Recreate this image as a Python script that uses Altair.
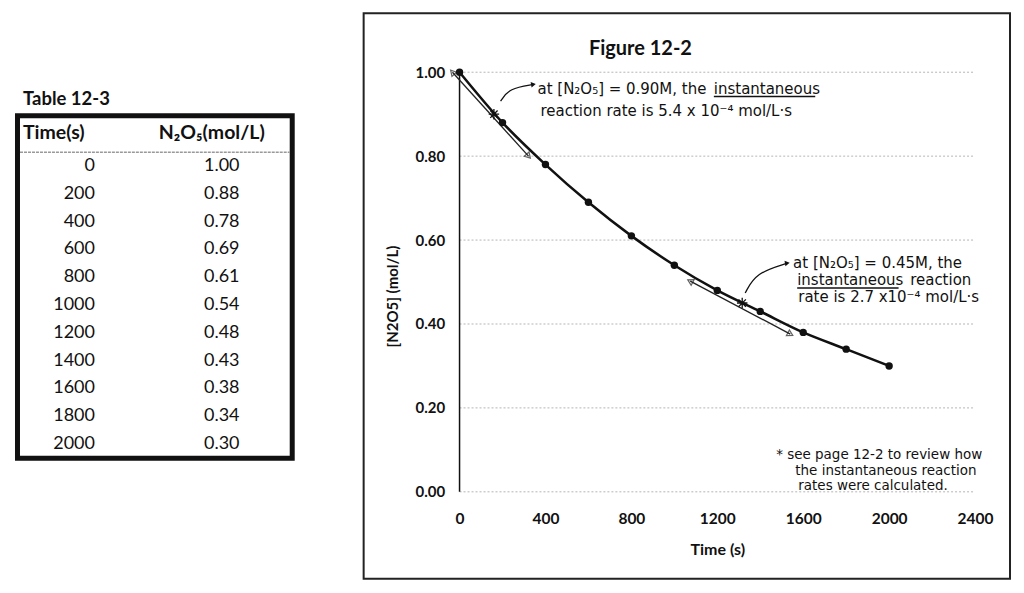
import altair as alt
import pandas as pd

# ---------------- data ----------------
table_title = "Table 12-3"
col_headers = ["Time(s)", "N₂O₅(mol/L)"]
time_s = [0, 200, 400, 600, 800, 1000, 1200, 1400, 1600, 1800, 2000]
conc = [1.00, 0.88, 0.78, 0.69, 0.61, 0.54, 0.48, 0.43, 0.38, 0.34, 0.30]
conc_labels = ["1.00", "0.88", "0.78", "0.69", "0.61", "0.54", "0.48", "0.43", "0.38", "0.34", "0.30"]

x_ticks = [0, 400, 800, 1200, 1600, 2000, 2400]
y_ticks = [0.0, 0.2, 0.4, 0.6, 0.8, 1.0]

# tangent lines (time, conc)
tan_group = ["t1", "t1", "t2", "t2"]
tan_t = [-33, 321, 1074, 1540]
tan_c = [1.00, 0.80, 0.502, 0.376]
tan_angle = [318, 138, 298, 118]

star_t = [160, 1316]
star_c = [0.90, 0.45]

# curved annotation arrows
arr_group = ["a1", "a1", "a1", "a2", "a2", "a2"]
arr_t = [191, 232, 344, 1330, 1380, 1526]
arr_c = [0.931, 0.962, 0.971, 0.474, 0.522, 0.545]

note_text = [
    "at [N₂O₅] = 0.90M, the", "instantaneous", "reaction rate is 5.4 x 10⁻⁴ mol/L·s",
    "at [N₂O₅] = 0.45M, the", "instantaneous", "reaction", "rate is 2.7 x10⁻⁴ mol/L·s",
]
note_t = [363, 1184, 377, 1553, 1572, 2098, 1577]
note_c = [0.960, 0.960, 0.907, 0.545, 0.505, 0.505, 0.464]

foot_text = ["* see page 12-2 to review how", "the instantaneous reaction", "rates were calculated."]
foot_t = [1474, 1563, 1577]
foot_c = [0.088, 0.050, 0.013]

under_t = [1184, 1572]
under_t2 = [1656, 2044]
under_c = [0.942, 0.486]

fig_title = "Figure 12-2"
x_title = "Time (s)"
y_title = "[N2O5] (mol/L)"

# ---------------- layout constants ----------------
FONT = "Lato"
HAND = "DejaVu Sans"
XDOM = [-446.5, 2562.8]
YDOM = [-0.2071, 1.1405]
RW, RH = 647, 566
LW = 340
LYDOM = [-5.504, 14.856]

xs = alt.Scale(domain=XDOM, nice=False, zero=False)
ys = alt.Scale(domain=YDOM, nice=False, zero=False)

# ---------------- right panel ----------------
grid_df = pd.DataFrame({"y": y_ticks, "x": [0] * len(y_ticks), "x2": [2400] * len(y_ticks)})
grid = alt.Chart(grid_df).mark_rule(color="#b5b5b5", strokeWidth=1, strokeDash=[2, 2]).encode(
    x=alt.X("x:Q", scale=xs, axis=alt.Axis(
        values=x_ticks, format="d", title=x_title, offset=-87, labelPadding=20,
        domain=False, ticks=False, grid=False, labelFont=FONT, labelFontSize=15.5,
        labelFontWeight="bold", labelColor="#111", titleFont=FONT, titleFontSize=16,
        titleFontWeight="bold", titleColor="#111", titleX=354, titleY=58,
        titleBaseline="middle", titleAlign="center", titleAnchor="start")),
    x2="x2:Q",
    y=alt.Y("y:Q", scale=ys, axis=alt.Axis(
        values=y_ticks, format=".2f", title=y_title, offset=-96, labelPadding=15,
        domain=False, ticks=False, grid=False, labelFont=FONT, labelFontSize=15,
        labelFontWeight="bold", labelColor="#111", titleFont=FONT, titleFontSize=15,
        titleFontWeight="bold", titleColor="#111", titlePadding=14)),
)

yline_df = pd.DataFrame({"x": [0], "y": [0.0], "y2": [1.0]})
yline = alt.Chart(yline_df).mark_rule(color="#111", strokeWidth=1.5).encode(
    x=alt.X("x:Q", scale=xs), y=alt.Y("y:Q", scale=ys), y2="y2:Q")

tan_df = pd.DataFrame({"g": tan_group, "x": tan_t, "y": tan_c, "a": tan_angle})
tan_line = alt.Chart(tan_df).mark_line(color="#222", strokeWidth=1.3).encode(
    x=alt.X("x:Q", scale=xs), y=alt.Y("y:Q", scale=ys), detail="g:N")
tan_head = alt.Chart(tan_df).mark_point(shape="triangle-up", filled=False, color="#222",
                                        size=40, strokeWidth=1.2).encode(
    x=alt.X("x:Q", scale=xs), y=alt.Y("y:Q", scale=ys), angle=alt.Angle("a:Q", scale=None))

data_df = pd.DataFrame({"x": time_s, "y": conc})
curve = alt.Chart(data_df).mark_line(color="#111", strokeWidth=2.5, interpolate="monotone").encode(
    x=alt.X("x:Q", scale=xs), y=alt.Y("y:Q", scale=ys))
pts = alt.Chart(data_df).mark_circle(color="#111", size=55, opacity=1).encode(
    x=alt.X("x:Q", scale=xs), y=alt.Y("y:Q", scale=ys))

star_df = pd.DataFrame({"x": star_t, "y": star_c})
stars = alt.Chart(star_df).mark_point(
    shape="M-1,0L1,0M0,-1L0,1M-0.7,-0.7L0.7,0.7M-0.7,0.7L0.7,-0.7",
    filled=False, color="#111", size=110, strokeWidth=1.3, opacity=1).encode(
    x=alt.X("x:Q", scale=xs), y=alt.Y("y:Q", scale=ys))

arr_df = pd.DataFrame({"g": arr_group, "x": arr_t, "y": arr_c})
arrows = alt.Chart(arr_df).mark_line(color="#111", strokeWidth=1.3, interpolate="basis").encode(
    x=alt.X("x:Q", scale=xs), y=alt.Y("y:Q", scale=ys), detail="g:N")
arr_head_df = arr_df.groupby("g").tail(1).assign(a=80)
arr_heads = alt.Chart(arr_head_df).mark_point(shape="triangle-up", filled=True, color="#111",
                                             size=30, opacity=1).encode(
    x=alt.X("x:Q", scale=xs), y=alt.Y("y:Q", scale=ys), angle=alt.Angle("a:Q", scale=None))

note_df = pd.DataFrame({"x": note_t, "y": note_c, "t": note_text})
notes = alt.Chart(note_df).mark_text(align="left", baseline="middle", font=HAND, fontSize=15,
                                     color="#111").encode(
    x=alt.X("x:Q", scale=xs), y=alt.Y("y:Q", scale=ys), text="t:N")

foot_df = pd.DataFrame({"x": foot_t, "y": foot_c, "t": foot_text})
foot = alt.Chart(foot_df).mark_text(align="left", baseline="middle", font=HAND, fontSize=13.5,
                                    color="#111").encode(
    x=alt.X("x:Q", scale=xs), y=alt.Y("y:Q", scale=ys), text="t:N")

under_df = pd.DataFrame({"x": under_t, "x2": under_t2, "y": under_c})
unders = alt.Chart(under_df).mark_rule(color="#111", strokeWidth=1.5).encode(
    x=alt.X("x:Q", scale=xs), x2="x2:Q", y=alt.Y("y:Q", scale=ys))

title_df = pd.DataFrame({"x": [842], "y": [1.0548], "t": [fig_title]})
ftitle = alt.Chart(title_df).mark_text(font=FONT, fontSize=20, fontWeight="bold", color="#111",
                                       baseline="middle").encode(
    x=alt.X("x:Q", scale=xs), y=alt.Y("y:Q", scale=ys), text="t:N")

right = alt.layer(grid, yline, tan_line, tan_head, curve, pts, stars, arrows, arr_heads,
                  notes, foot, unders, ftitle).properties(
    width=RW, height=RH, view=alt.ViewBackground(stroke="#222", strokeWidth=2))

# ---------------- left panel (table) ----------------
lxs = alt.Scale(domain=[0, LW], nice=False, zero=False)
lys = alt.Scale(domain=LYDOM, nice=False, zero=False, reverse=True)

rows = list(range(len(time_s)))
tbl_df = pd.DataFrame({"r": rows, "time": [str(t) for t in time_s], "val": conc_labels,
                       "xt": [82] * len(rows), "xv": [209] * len(rows)})
t_time = alt.Chart(tbl_df).mark_text(align="right", baseline="middle", font=FONT, fontSize=18,
                                     color="#111").encode(
    x=alt.X("xt:Q", scale=lxs, axis=None), y=alt.Y("r:Q", scale=lys, axis=None), text="time:N")
t_val = alt.Chart(tbl_df).mark_text(align="center", baseline="middle", font=FONT, fontSize=18,
                                    color="#111").encode(
    x=alt.X("xv:Q", scale=lxs, axis=None), y=alt.Y("r:Q", scale=lys, axis=None), text="val:N")

hdr_df = pd.DataFrame({"x": [10, 199], "r": [-1.19, -1.19], "t": col_headers})
h1 = alt.Chart(hdr_df.iloc[[0]]).mark_text(align="left", baseline="middle", font=FONT, fontSize=19.5,
                                           fontWeight="bold", color="#111").encode(
    x=alt.X("x:Q", scale=lxs, axis=None), y=alt.Y("r:Q", scale=lys, axis=None), text="t:N")
h2 = alt.Chart(hdr_df.iloc[[1]]).mark_text(align="center", baseline="middle", font=FONT, fontSize=19.5,
                                           fontWeight="bold", color="#111").encode(
    x=alt.X("x:Q", scale=lxs, axis=None), y=alt.Y("r:Q", scale=lys, axis=None), text="t:N")

ttl_df = pd.DataFrame({"x": [10], "r": [-2.41], "t": [table_title]})
ttl = alt.Chart(ttl_df).mark_text(align="left", baseline="middle", font=FONT, fontSize=18.5,
                                  fontWeight="bold", color="#111").encode(
    x=alt.X("x:Q", scale=lxs, axis=None), y=alt.Y("r:Q", scale=lys, axis=None), text="t:N")

box_df = pd.DataFrame({"x": [4.5], "x2": [279.5], "r": [-1.817], "r2": [10.52]})
box = alt.Chart(box_df).mark_rect(fillOpacity=0, stroke="#111", strokeWidth=5).encode(
    x=alt.X("x:Q", scale=lxs, axis=None), x2="x2:Q",
    y=alt.Y("r:Q", scale=lys, axis=None), y2="r2:Q")

sep_df = pd.DataFrame({"x": [7], "x2": [277], "r": [-0.504]})
sep = alt.Chart(sep_df).mark_rule(color="#999", strokeWidth=1.5, strokeDash=[3, 1]).encode(
    x=alt.X("x:Q", scale=lxs, axis=None), x2="x2:Q", y=alt.Y("r:Q", scale=lys, axis=None))

left = alt.layer(box, sep, ttl, h1, h2, t_time, t_val).properties(
    width=LW, height=RH, view=alt.ViewBackground(strokeWidth=0))

chart = alt.hconcat(left, right, spacing=10).properties(
    padding={"left": 5, "top": 4, "right": 5, "bottom": 5}
).configure_view(strokeWidth=0)

chart.save("out.html", embed_options={"renderer": "svg", "actions": False})
